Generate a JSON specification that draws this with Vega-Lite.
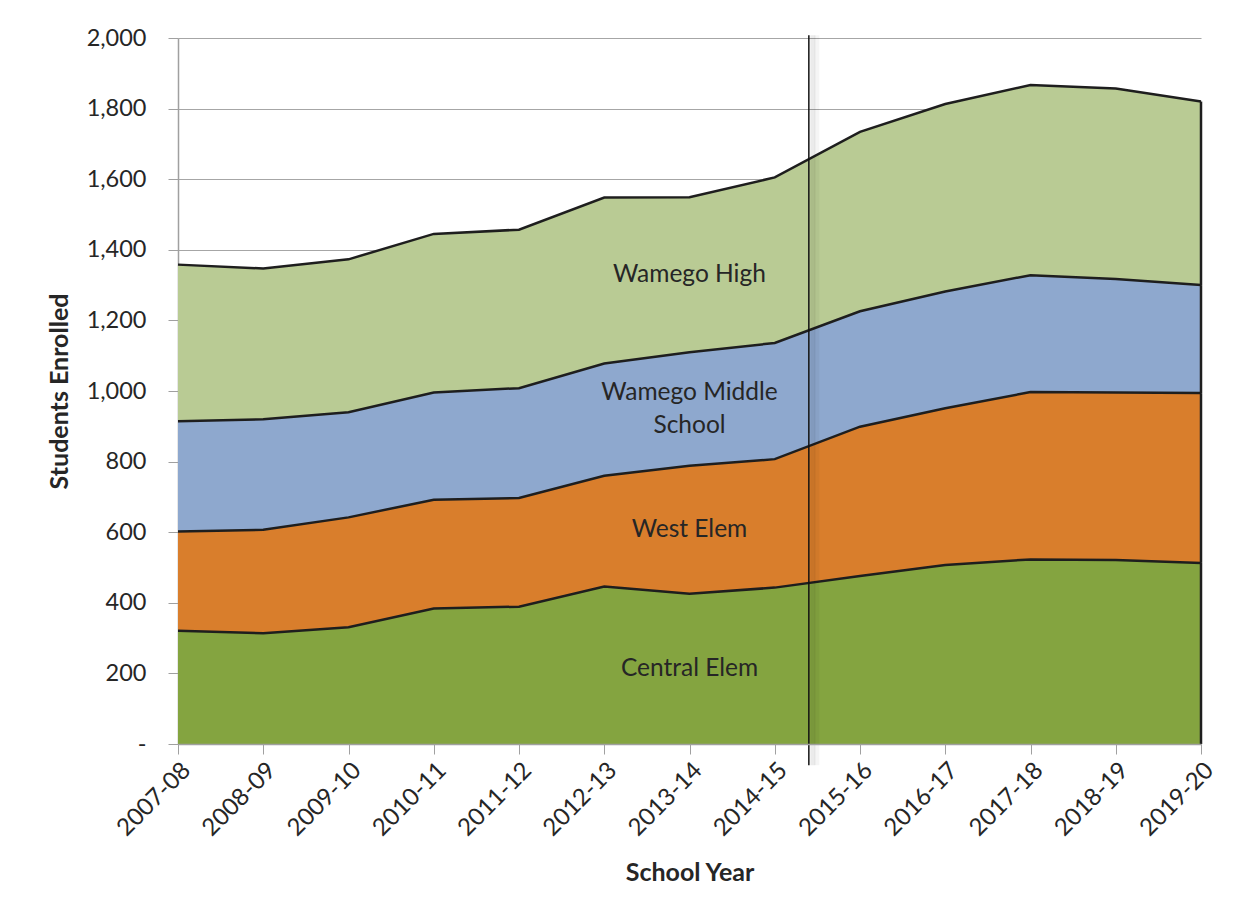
{
  "$schema": "https://vega.github.io/schema/vega-lite/v6.json",
  "autosize": "none",
  "width": 1023,
  "height": 706,
  "padding": {"left": 178, "top": 38, "right": 56, "bottom": 174},
  "background": "white",
  "config": {"view": {"stroke": null}, "font": "Lato"},
  "datasets": {
    "enrollment": [
      {"year": 2007, "school_year": "2007-08", "school": "Central Elem", "students": 321},
      {"year": 2007, "school_year": "2007-08", "school": "West Elem", "students": 281},
      {"year": 2007, "school_year": "2007-08", "school": "Wamego Middle School", "students": 312},
      {"year": 2007, "school_year": "2007-08", "school": "Wamego High", "students": 444},
      {"year": 2008, "school_year": "2008-09", "school": "Central Elem", "students": 314},
      {"year": 2008, "school_year": "2008-09", "school": "West Elem", "students": 293},
      {"year": 2008, "school_year": "2008-09", "school": "Wamego Middle School", "students": 313},
      {"year": 2008, "school_year": "2008-09", "school": "Wamego High", "students": 427},
      {"year": 2009, "school_year": "2009-10", "school": "Central Elem", "students": 331},
      {"year": 2009, "school_year": "2009-10", "school": "West Elem", "students": 311},
      {"year": 2009, "school_year": "2009-10", "school": "Wamego Middle School", "students": 298},
      {"year": 2009, "school_year": "2009-10", "school": "Wamego High", "students": 433},
      {"year": 2010, "school_year": "2010-11", "school": "Central Elem", "students": 384},
      {"year": 2010, "school_year": "2010-11", "school": "West Elem", "students": 308},
      {"year": 2010, "school_year": "2010-11", "school": "Wamego Middle School", "students": 304},
      {"year": 2010, "school_year": "2010-11", "school": "Wamego High", "students": 449},
      {"year": 2011, "school_year": "2011-12", "school": "Central Elem", "students": 389},
      {"year": 2011, "school_year": "2011-12", "school": "West Elem", "students": 308},
      {"year": 2011, "school_year": "2011-12", "school": "Wamego Middle School", "students": 311},
      {"year": 2011, "school_year": "2011-12", "school": "Wamego High", "students": 449},
      {"year": 2012, "school_year": "2012-13", "school": "Central Elem", "students": 446},
      {"year": 2012, "school_year": "2012-13", "school": "West Elem", "students": 314},
      {"year": 2012, "school_year": "2012-13", "school": "Wamego Middle School", "students": 318},
      {"year": 2012, "school_year": "2012-13", "school": "Wamego High", "students": 470},
      {"year": 2013, "school_year": "2013-14", "school": "Central Elem", "students": 426},
      {"year": 2013, "school_year": "2013-14", "school": "West Elem", "students": 362},
      {"year": 2013, "school_year": "2013-14", "school": "Wamego Middle School", "students": 322},
      {"year": 2013, "school_year": "2013-14", "school": "Wamego High", "students": 439},
      {"year": 2014, "school_year": "2014-15", "school": "Central Elem", "students": 443},
      {"year": 2014, "school_year": "2014-15", "school": "West Elem", "students": 364},
      {"year": 2014, "school_year": "2014-15", "school": "Wamego Middle School", "students": 329},
      {"year": 2014, "school_year": "2014-15", "school": "Wamego High", "students": 469},
      {"year": 2015, "school_year": "2015-16", "school": "Central Elem", "students": 476},
      {"year": 2015, "school_year": "2015-16", "school": "West Elem", "students": 423},
      {"year": 2015, "school_year": "2015-16", "school": "Wamego Middle School", "students": 327},
      {"year": 2015, "school_year": "2015-16", "school": "Wamego High", "students": 508},
      {"year": 2016, "school_year": "2016-17", "school": "Central Elem", "students": 507},
      {"year": 2016, "school_year": "2016-17", "school": "West Elem", "students": 444},
      {"year": 2016, "school_year": "2016-17", "school": "Wamego Middle School", "students": 331},
      {"year": 2016, "school_year": "2016-17", "school": "Wamego High", "students": 531},
      {"year": 2017, "school_year": "2017-18", "school": "Central Elem", "students": 523},
      {"year": 2017, "school_year": "2017-18", "school": "West Elem", "students": 474},
      {"year": 2017, "school_year": "2017-18", "school": "Wamego Middle School", "students": 331},
      {"year": 2017, "school_year": "2017-18", "school": "Wamego High", "students": 539},
      {"year": 2018, "school_year": "2018-19", "school": "Central Elem", "students": 521},
      {"year": 2018, "school_year": "2018-19", "school": "West Elem", "students": 475},
      {"year": 2018, "school_year": "2018-19", "school": "Wamego Middle School", "students": 321},
      {"year": 2018, "school_year": "2018-19", "school": "Wamego High", "students": 540},
      {"year": 2019, "school_year": "2019-20", "school": "Central Elem", "students": 513},
      {"year": 2019, "school_year": "2019-20", "school": "West Elem", "students": 481},
      {"year": 2019, "school_year": "2019-20", "school": "Wamego Middle School", "students": 306},
      {"year": 2019, "school_year": "2019-20", "school": "Wamego High", "students": 520}
    ],
    "divider": [{"boundary": 2014.4, "note": "actual / projected"}]
  },
  "layer": [
    {
      "data": {"name": "enrollment"},
      "transform": [
        {"calculate": "indexof(['Central Elem','West Elem','Wamego Middle School','Wamego High'], datum.school)", "as": "rank"},
        {"stack": "students", "groupby": ["year"], "sort": [{"field": "rank", "order": "ascending"}], "as": ["y0", "y1"]}
      ],
      "mark": {"type": "area", "opacity": 1},
      "encoding": {
        "x": {
          "field": "year", "type": "quantitative",
          "scale": {"domain": [2007, 2019], "nice": false, "zero": false},
          "axis": {
            "values": [2007, 2008, 2009, 2010, 2011, 2012, 2013, 2014, 2015, 2016, 2017, 2018, 2019],
            "labelExpr": "datum.value + '-' + ((datum.value + 1) % 100 < 10 ? '0' : '') + ((datum.value + 1) % 100)",
            "labelAngle": -45, "labelAlign": "right", "labelBaseline": "top",
            "labelFontSize": 24, "labelColor": "#262626", "labelPadding": 4,
            "tickSize": 10, "tickColor": "#A0A0A0", "domainColor": "#A0A0A0", "domainWidth": 1.5,
            "grid": false, "zindex": 1,
            "title": "School Year", "titleFontSize": 25, "titleFontWeight": "bold", "titleColor": "#262626", "titlePadding": 20
          }
        },
        "y": {
          "field": "y1", "type": "quantitative",
          "scale": {"domain": [0, 2000], "nice": false},
          "axis": {
            "values": [0, 200, 400, 600, 800, 1000, 1200, 1400, 1600, 1800, 2000],
            "labelExpr": "datum.value == 0 ? '-' : format(datum.value, ',')",
            "labelFontSize": 23.5, "labelColor": "#262626", "labelPadding": 22,
            "tickSize": 10, "tickColor": "#A0A0A0", "domainColor": "#A0A0A0", "domainWidth": 1.5,
            "gridColor": "#A6A6A6", "gridWidth": 1.2,
            "title": "Students Enrolled", "titleFontSize": 25, "titleFontWeight": "bold", "titleColor": "#262626", "titlePadding": 14
          }
        },
        "y2": {"field": "y0"},
        "color": {
          "field": "school", "type": "nominal",
          "scale": {"domain": ["Central Elem", "West Elem", "Wamego Middle School", "Wamego High"], "range": ["#84A440", "#D97E2C", "#8EA8CE", "#B9CB94"]},
          "legend": null
        }
      }
    },
    {
      "data": {"name": "enrollment"},
      "transform": [
        {"calculate": "indexof(['Central Elem','West Elem','Wamego Middle School','Wamego High'], datum.school)", "as": "rank"},
        {"stack": "students", "groupby": ["year"], "sort": [{"field": "rank", "order": "ascending"}], "as": ["y0", "y1"]}
      ],
      "mark": {"type": "line", "color": "#1E1E1E", "strokeWidth": 2.5},
      "encoding": {
        "x": {"field": "year", "type": "quantitative"},
        "y": {"field": "y1", "type": "quantitative"},
        "detail": {"field": "school", "type": "nominal"}
      }
    },
    {
      "data": {"name": "enrollment"},
      "transform": [
        {"calculate": "indexof(['Central Elem','West Elem','Wamego Middle School','Wamego High'], datum.school)", "as": "rank"},
        {"stack": "students", "groupby": ["year"], "sort": [{"field": "rank", "order": "ascending"}], "as": ["y0", "y1"]},
        {"filter": "datum.year == 2019"}
      ],
      "mark": {"type": "rule", "color": "#1E1E1E", "strokeWidth": 2.5},
      "encoding": {
        "x": {"field": "year", "type": "quantitative"},
        "y": {"field": "y0", "type": "quantitative"},
        "y2": {"field": "y1"}
      }
    },
    {
      "data": {"name": "enrollment"},
      "transform": [
        {"calculate": "indexof(['Central Elem','West Elem','Wamego Middle School','Wamego High'], datum.school)", "as": "rank"},
        {"stack": "students", "groupby": ["year"], "sort": [{"field": "rank", "order": "ascending"}], "as": ["y0", "y1"]},
        {"filter": "datum.year == 2013 && datum.school != 'Wamego Middle School'"},
        {"calculate": "(datum.y0 + datum.y1) / 2", "as": "mid"}
      ],
      "mark": {"type": "text", "fontSize": 24.5, "color": "#262626", "align": "center", "baseline": "middle"},
      "encoding": {
        "x": {"field": "year", "type": "quantitative"},
        "y": {"field": "mid", "type": "quantitative"},
        "text": {"field": "school"}
      }
    },
    {
      "data": {"name": "enrollment"},
      "transform": [
        {"calculate": "indexof(['Central Elem','West Elem','Wamego Middle School','Wamego High'], datum.school)", "as": "rank"},
        {"stack": "students", "groupby": ["year"], "sort": [{"field": "rank", "order": "ascending"}], "as": ["y0", "y1"]},
        {"filter": "datum.year == 2013 && datum.school == 'Wamego Middle School'"},
        {"calculate": "(datum.y0 + datum.y1) / 2", "as": "mid"},
        {"calculate": "['Wamego Middle', 'School']", "as": "label"}
      ],
      "mark": {"type": "text", "fontSize": 24.5, "color": "#262626", "align": "center", "baseline": "middle", "lineHeight": 33, "dy": -16},
      "encoding": {
        "x": {"field": "year", "type": "quantitative"},
        "y": {"field": "mid", "type": "quantitative"},
        "text": {"field": "label"}
      }
    },
    {
      "data": {"name": "divider"},
      "mark": {"type": "rule", "color": "#000000", "strokeWidth": 5, "opacity": 0.08, "xOffset": 4},
      "encoding": {
        "x": {"field": "boundary", "type": "quantitative"},
        "y": {"datum": 2008},
        "y2": {"datum": -60}
      }
    },
    {
      "data": {"name": "divider"},
      "mark": {"type": "rule", "color": "#000000", "strokeWidth": 5, "opacity": 0.04, "xOffset": 8},
      "encoding": {
        "x": {"field": "boundary", "type": "quantitative"},
        "y": {"datum": 2008},
        "y2": {"datum": -60}
      }
    },
    {
      "data": {"name": "divider"},
      "mark": {"type": "rule", "color": "#111111", "strokeWidth": 1.5},
      "encoding": {
        "x": {"field": "boundary", "type": "quantitative"},
        "y": {"datum": 2008},
        "y2": {"datum": -60}
      }
    }
  ]
}
